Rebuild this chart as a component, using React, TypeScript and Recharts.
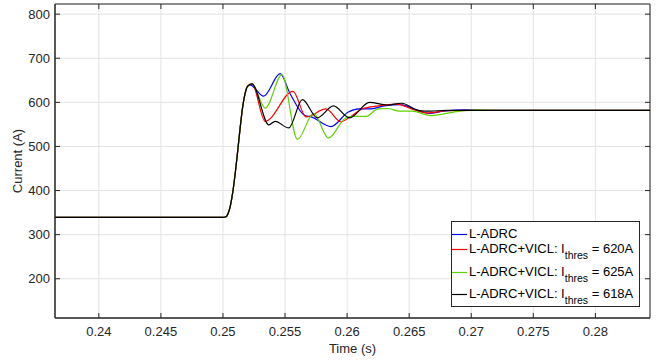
import { CartesianGrid, Legend, Line, LineChart, ReferenceArea, ReferenceLine, XAxis, YAxis } from "recharts";

const FONT = '"Liberation Sans", Arial, Helvetica, sans-serif';
const AXIS_COLOR = "#262626";

const X_TICKS = [0.24, 0.245, 0.25, 0.255, 0.26, 0.265, 0.27, 0.275, 0.28];
const Y_TICKS = [200, 300, 400, 500, 600, 700, 800];
const X_DOMAIN = [0.23647, 0.2844];
const Y_DOMAIN = [111, 823];

// common part: steady state, then the step response rise (all four overlap)
const riseTime = [0.23647, 0.24, 0.245, 0.25, 0.2502, 0.2504, 0.2506, 0.2508, 0.251, 0.2512, 0.2514, 0.2516, 0.2518, 0.252];
const riseCurrent = [339, 339, 339, 339, 340, 347, 366, 398, 442, 493, 546, 592, 622, 637];

// L-ADRC
const ladrcTime = [0.2522, 0.25327, 0.25461, 0.2554, 0.2566, 0.2571, 0.2587, 0.2601, 0.261, 0.2618, 0.263, 0.2643, 0.2655, 0.2666, 0.2678, 0.2695, 0.272, 0.2844];
const ladrcCurrent = [639, 614, 665, 620, 570, 567, 545, 578, 585, 585, 592, 595, 584, 575, 580, 583, 582, 582];

// L-ADRC+VICL, Ithres = 620A
const vicl620Time = [0.25234, 0.2534, 0.25564, 0.2567, 0.2583, 0.2595, 0.2603, 0.2612, 0.2625, 0.264, 0.2653, 0.2665, 0.268, 0.27, 0.2844];
const vicl620Current = [642, 557, 625, 567, 585, 556, 568, 585, 592, 596, 584, 576, 581, 582, 582];

// L-ADRC+VICL, Ithres = 625A
const vicl625Time = [0.25234, 0.25341, 0.25475, 0.256, 0.2573, 0.2585, 0.2598, 0.2604, 0.2615, 0.2625, 0.2633, 0.2642, 0.2652, 0.2668, 0.2688, 0.2705, 0.272, 0.2844];
const vicl625Current = [641, 587, 663, 516, 575, 519, 563, 568, 568, 585, 586, 580, 580, 570, 579, 583, 582, 582];

// L-ADRC+VICL, Ithres = 618A
const vicl618Time = [0.25234, 0.2537, 0.2542, 0.2553, 0.2564, 0.2576, 0.2589, 0.2602, 0.2618, 0.2632, 0.2644, 0.2657, 0.2667, 0.268, 0.2844];
const vicl618Current = [642, 549, 557, 542, 606, 565, 592, 565, 600, 594, 598, 582, 580, 582, 582];

const SERIES_NAMES = ["L-ADRC", "L-ADRC+VICL", "L-ADRC+VICL", "L-ADRC+VICL"];
const THRESHOLDS = [null, 620, 625, 618];
const SERIES_COLORS = ["#0000ff", "#ff0000", "#5fd300", "#000000"];

const CHART_W = 662;
const CHART_H = 362;
const MARGIN = { top: 4, right: 12, left: 0, bottom: 0 };
const Y_AXIS_W = 55;
const X_AXIS_H = 44;
const TICK_LEN = 5;

// tick length of the top/right box ticks, in data units
const plotW = CHART_W - MARGIN.left - MARGIN.right - Y_AXIS_W;
const plotH = CHART_H - MARGIN.top - MARGIN.bottom - X_AXIS_H;
const xTickLen = ((X_DOMAIN[1] - X_DOMAIN[0]) / plotW) * TICK_LEN;
const yTickLen = ((Y_DOMAIN[1] - Y_DOMAIN[0]) / plotH) * TICK_LEN;

type Pt = { t: number; v: number };

const toPoints = (ts: number[], vs: number[]): Pt[] => ts.map((t, i) => ({ t, v: vs[i] }));

const withRise = (ts: number[], vs: number[]) =>
  toPoints(riseTime, riseCurrent).concat(toPoints(ts, vs));

const seriesData = [
  withRise(ladrcTime, ladrcCurrent),
  withRise(vicl620Time, vicl620Current),
  withRise(vicl625Time, vicl625Current),
  withRise(vicl618Time, vicl618Current),
];

const ROW_TOPS = [4, 19, 42, 64];

function LegendBox() {
  return (
    <div
      style={{
        position: "relative",
        boxSizing: "border-box",
        width: 189,
        height: 86,
        border: `1px solid ${AXIS_COLOR}`,
        background: "#fff",
        fontFamily: FONT,
        fontSize: 13,
        color: "#000",
      }}
    >
      {SERIES_NAMES.map((name, i) => (
        <div
          key={i}
          style={{
            position: "absolute",
            left: 0,
            top: ROW_TOPS[i],
            height: 16,
            display: "flex",
            alignItems: "center",
            whiteSpace: "nowrap",
            lineHeight: "16px",
          }}
        >
          <svg width={17} height={16} style={{ display: "block", flex: "none" }}>
            <line x1={0} y1={8.5} x2={15} y2={8.5} stroke={SERIES_COLORS[i]} strokeWidth={1.2} />
          </svg>
          <span>{name}</span>
          {THRESHOLDS[i] !== null && (
            <>
              <span>: I</span>
              <span style={{ fontSize: 10.5, position: "relative", top: 6 }}>thres</span>
              <span>&nbsp;= {THRESHOLDS[i]}A</span>
            </>
          )}
        </div>
      ))}
    </div>
  );
}

function YLabel({ viewBox }: any) {
  const cy = viewBox ? viewBox.y + viewBox.height / 2 : 161;
  return (
    <text
      x={17}
      y={cy}
      transform={`rotate(-90 17 ${cy})`}
      textAnchor="middle"
      dominantBaseline="central"
      fontFamily={FONT}
      fontSize={13}
      fill={AXIS_COLOR}
    >
      Current (A)
    </text>
  );
}

const tickStyle = { fontFamily: FONT, fontSize: 13, fill: AXIS_COLOR };

export default function App() {
  return (
    <div style={{ position: "absolute", left: 0, top: 0 }}>
      <LineChart width={CHART_W} height={CHART_H} margin={MARGIN}>
        <CartesianGrid stroke="#e3e3e3" strokeWidth={1} />
        <XAxis
          dataKey="t"
          type="number"
          domain={X_DOMAIN}
          allowDataOverflow
          ticks={X_TICKS}
          interval={0}
          height={X_AXIS_H}
          tickSize={-TICK_LEN}
          tickMargin={14}
          tick={tickStyle}
          axisLine={{ stroke: AXIS_COLOR }}
          tickLine={{ stroke: AXIS_COLOR }}
          label={{ value: "Time (s)", position: "insideBottom", offset: 9, fill: AXIS_COLOR, fontSize: 13, fontFamily: FONT }}
        />
        <YAxis
          type="number"
          domain={Y_DOMAIN}
          allowDataOverflow
          ticks={Y_TICKS}
          interval={0}
          width={Y_AXIS_W}
          tickSize={-TICK_LEN}
          tickMargin={10}
          tick={tickStyle}
          axisLine={{ stroke: AXIS_COLOR }}
          tickLine={{ stroke: AXIS_COLOR }}
          label={<YLabel />}
        />
        <ReferenceArea
          x1={X_DOMAIN[0]}
          x2={X_DOMAIN[1]}
          y1={Y_DOMAIN[0]}
          y2={Y_DOMAIN[1]}
          fill="none"
          stroke={AXIS_COLOR}
          strokeWidth={1}
          ifOverflow="visible"
        />
        {X_TICKS.map((t) => (
          <ReferenceLine
            key={`tx-${t}`}
            segment={[
              { x: t, y: Y_DOMAIN[1] },
              { x: t, y: Y_DOMAIN[1] - yTickLen },
            ]}
            stroke={AXIS_COLOR}
            ifOverflow="visible"
          />
        ))}
        {Y_TICKS.map((v) => (
          <ReferenceLine
            key={`ty-${v}`}
            segment={[
              { x: X_DOMAIN[1], y: v },
              { x: X_DOMAIN[1] - xTickLen, y: v },
            ]}
            stroke={AXIS_COLOR}
            ifOverflow="visible"
          />
        ))}
        {seriesData.map((data, i) => (
          <Line
            key={i}
            data={data}
            dataKey="v"
            type="monotone"
            stroke={SERIES_COLORS[i]}
            strokeWidth={1.2}
            dot={false}
            activeDot={false}
            isAnimationActive={false}
          />
        ))}
        <Legend
          layout="vertical"
          align="center"
          verticalAlign="middle"
          content={<LegendBox />}
          wrapperStyle={{ left: 451, top: 221, width: 189, height: 86 }}
        />
      </LineChart>
    </div>
  );
}
